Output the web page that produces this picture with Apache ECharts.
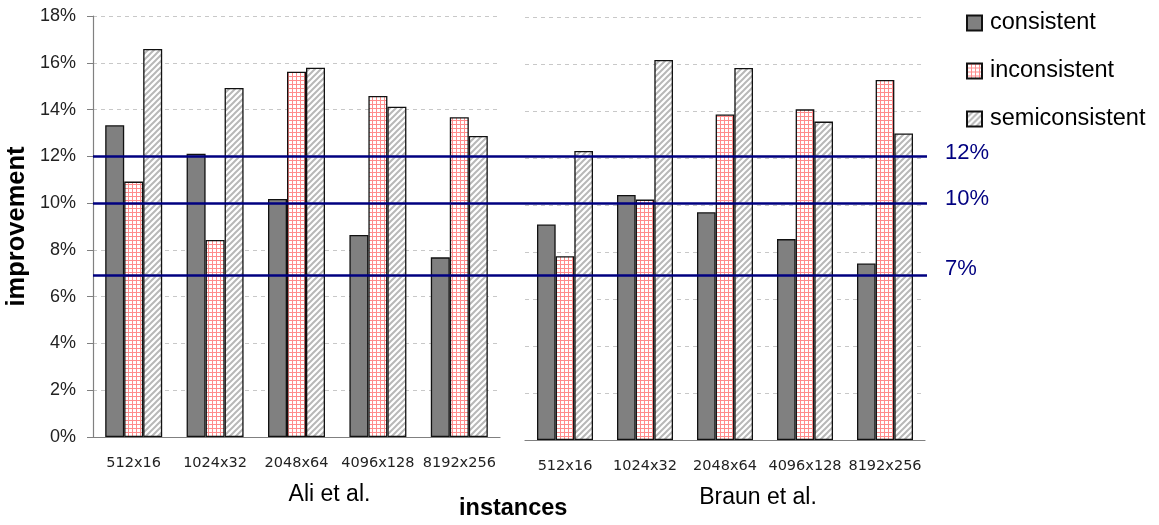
<!DOCTYPE html>
<html>
<head>
<meta charset="utf-8">
<script src="https://cdn.jsdelivr.net/npm/echarts@6/dist/echarts.min.js"></script>
<style>
html,body{margin:0;padding:0;background:#fff;}
#chart{width:1159px;height:525px;}
</style>
</head>
<body>
<div id="chart"></div>
<script>
const categories = ['512x16', '1024x32', '2048x64', '4096x128', '8192x256'];
const seriesNames = ['consistent', 'inconsistent', 'semiconsistent'];
const aliConsistent = [13.33, 12.11, 10.18, 8.64, 7.68];
const aliInconsistent = [10.92, 8.42, 15.62, 14.58, 13.67];
const aliSemi = [16.59, 14.92, 15.79, 14.12, 12.87];
const braunConsistent = [9.17, 10.43, 9.69, 8.55, 7.51];
const braunInconsistent = [7.82, 10.23, 13.85, 14.07, 15.32];
const braunSemi = [12.30, 16.17, 15.83, 13.55, 13.04];
const thresholds = [12, 10, 6.9];
const thresholdLabels = ['12%', '10%', '7%'];
const panelNames = ['Ali et al.', 'Braun et al.'];

// fill patterns
function gridPattern() {
  const c = document.createElement('canvas');
  c.width = 4; c.height = 4;
  const g = c.getContext('2d');
  g.fillStyle = '#ffffff'; g.fillRect(0, 0, 4, 4);
  g.fillStyle = '#ff8c8c';
  g.fillRect(0, 0, 4, 1);
  g.fillRect(0, 0, 1, 4);
  return c;
}
function hatchPattern() {
  const c = document.createElement('canvas');
  c.width = 6; c.height = 6;
  const g = c.getContext('2d');
  g.fillStyle = '#ffffff'; g.fillRect(0, 0, 6, 6);
  g.strokeStyle = '#b8b8b8'; g.lineWidth = 2;
  g.beginPath();
  g.moveTo(-3, 3); g.lineTo(3, -3);
  g.moveTo(0, 6); g.lineTo(6, 0);
  g.moveTo(3, 9); g.lineTo(9, 3);
  g.stroke();
  return c;
}

const chart = echarts.init(document.getElementById('chart'), null, {renderer: 'canvas'});

const styles = [
  {color: '#808080', borderColor: '#111', borderWidth: 1.3},
  {color: {image: gridPattern(), repeat: 'repeat'}, borderColor: '#111', borderWidth: 1.3},
  {color: {image: hatchPattern(), repeat: 'repeat'}, borderColor: '#111', borderWidth: 1.3}
];

const dataSets = [[aliConsistent, aliInconsistent, aliSemi], [braunConsistent, braunInconsistent, braunSemi]];

const series = [];
for (let p = 0; p < 2; p++) {
  for (let s = 0; s < 3; s++) {
    series.push({
      type: 'bar', name: seriesNames[s], xAxisIndex: p, yAxisIndex: p,
      data: dataSets[p][s], barCategoryGap: '30%', barGap: '0%',
      itemStyle: styles[s], silent: true
    });
  }
}
const labelShift = [-3, -4, -7];
series.push({
  type: 'line', xAxisIndex: 2, yAxisIndex: 2, data: [], silent: true,
  markLine: {
    symbol: 'none', silent: true,
    lineStyle: {color: '#000080', width: 2.5, type: 'solid'},
    data: thresholds.map((v, i) => ({
      yAxis: v,
      label: {show: true, position: 'end', formatter: thresholdLabels[i], distance: 18,
        color: '#000080', fontSize: 22, fontFamily: 'Liberation Sans',
        offset: [0, labelShift[i]]}
    }))
  }
});

const catAxis = (idx, name) => ({
  type: 'category', gridIndex: idx, data: categories,
  axisLine: {show: true, lineStyle: {color: '#808080', width: 1.2}},
  axisTick: {show: false},
  axisLabel: {interval: 0, fontFamily: 'DejaVu Sans', fontSize: 14.5, color: '#222', margin: 19},
  name: name, nameLocation: 'middle', nameGap: 46,
  nameTextStyle: {fontFamily: 'Liberation Sans', fontSize: 23, color: '#000', padding: [0, 0, 0, 66]}
});

const option = {
  animation: false,
  backgroundColor: '#fff',
  title: {
    text: 'instances', left: 459, top: 497, padding: 0,
    textStyle: {fontFamily: 'Liberation Sans', fontWeight: 'bold', fontSize: 23.5, color: '#000'}
  },
  legend: {
    orient: 'vertical', left: 966, top: 11, padding: 0, itemWidth: 15, itemHeight: 15, itemGap: 24,
    icon: 'rect',
    data: seriesNames,
    textStyle: {fontFamily: 'Liberation Sans', fontSize: 23.5, color: '#000', padding: [0, 0, 0, 3]}
  },
  grid: [
    {left: 93, top: 16, width: 407, height: 421},
    {left: 525, top: 17, width: 400, height: 423},
    {left: 93, top: 16, width: 834, height: 421}
  ],
  xAxis: [
    catAxis(0, panelNames[0]),
    catAxis(1, panelNames[1]),
    {type: 'value', gridIndex: 2, min: 0, max: 1, show: false}
  ],
  yAxis: [
    {type: 'value', gridIndex: 0, min: 0, max: 18, interval: 2,
     axisLine: {show: true, lineStyle: {color: '#808080', width: 1.2}},
     axisTick: {show: true, length: 6, lineStyle: {color: '#808080'}},
     axisLabel: {formatter: '{value}%', fontFamily: 'Liberation Sans', fontSize: 18, color: '#222', margin: 17},
     splitLine: {show: true, lineStyle: {color: '#c8c8c8', type: [4, 4], width: 1}},
     name: 'improvement', nameLocation: 'middle', nameGap: 63, nameRotate: 90,
     nameTextStyle: {fontFamily: 'Liberation Sans', fontWeight: 'bold', fontSize: 25.5, color: '#000'}},
    {type: 'value', gridIndex: 1, min: 0, max: 18, interval: 2,
     axisLine: {show: false}, axisTick: {show: false}, axisLabel: {show: false},
     splitLine: {show: true, lineStyle: {color: '#c8c8c8', type: [4, 4], width: 1}}},
    {type: 'value', gridIndex: 2, min: 0, max: 18, show: false, splitLine: {show: false}}
  ],
  series: series
};
chart.setOption(option);
</script>
</body>
</html>
